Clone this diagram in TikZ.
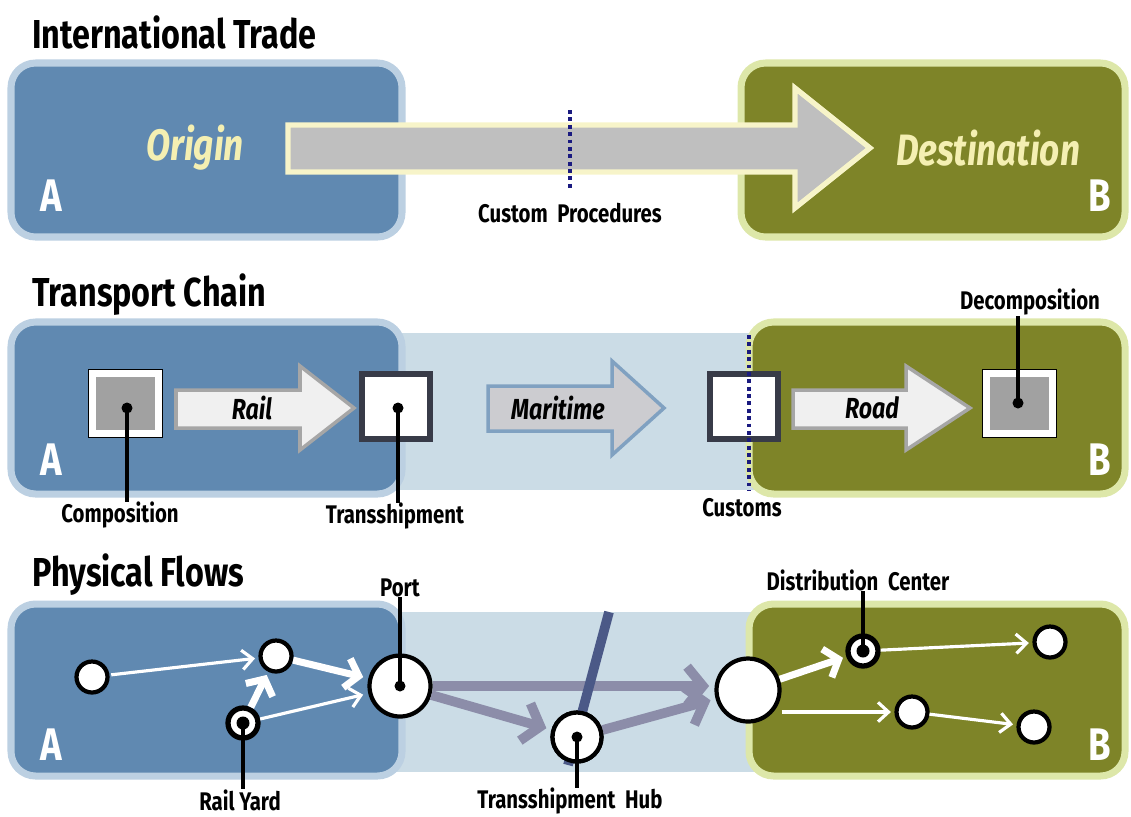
\documentclass[tikz,border=0pt]{standalone}
\usepackage{fontspec}
\newfontfamily\agency[FakeStretch=0.8]{Fira Sans}
\usetikzlibrary{arrows.meta,positioning,calc}

\definecolor{blueA}{HTML}{6089B1}
\definecolor{blueAedge}{HTML}{BCD0E2}
\definecolor{greenB}{HTML}{7E8428}
\definecolor{greenBedge}{HTML}{DDE7A9}
\definecolor{bandblue}{HTML}{CBDCE6}
\definecolor{paleyellow}{HTML}{F4EFB2}
\definecolor{flowgray}{HTML}{8C8DA9}
\definecolor{slate}{HTML}{4B5987}
\definecolor{customsnavy}{HTML}{1A1A80}
\definecolor{boxdark}{HTML}{383B48}

\begin{document}
\begin{tikzpicture}[x=0.02cm, y=-0.02cm,
    regionA/.style={fill=blueA, draw=blueAedge, line width=4pt, rounded corners=14pt},
    regionB/.style={fill=greenB, draw=greenBedge, line width=4pt, rounded corners=14pt},
    title/.style={font=\agency\bfseries\fontsize{23}{26}\selectfont, anchor=west, inner sep=0pt},
    lbl/.style={font=\agency\bfseries\fontsize{14.5}{16}\selectfont, inner sep=0pt},
    place/.style={font=\agency\bfseries\itshape\fontsize{25}{28}\selectfont, text=paleyellow, inner sep=0pt},
    mode/.style={font=\agency\bfseries\itshape\fontsize{16.5}{18}\selectfont, inner sep=0pt},
    letter/.style={font=\agency\bfseries\fontsize{26}{28}\selectfont, text=white, inner sep=0pt},
    border/.style={draw=customsnavy, line width=1.8pt, dash pattern=on 2.2pt off 2pt},
    pin/.style={draw=black, line width=1.8pt},
    dot/.style={circle, fill=black, inner sep=0pt, minimum size=0.22cm},
    stop/.style={circle, draw=black, fill=white, line width=2.4pt, inner sep=0pt, minimum size=0.62cm},
    grayflow/.style={draw=flowgray, line width=5.5pt, -{Straight Barb[length=9pt, width=22pt]}},
    bigflow/.style={draw=white, line width=4pt, -{Straight Barb[length=7pt, width=17pt]}},
    thinflow/.style={draw=white, line width=1.8pt, -{Straight Barb[length=6pt, width=11pt]}}
]
\useasboundingbox (0,0) rectangle (1131,816);

%%% International Trade
\node[title] (tTrade) at (32,32) {International Trade};
\draw[regionA] (11,63) rectangle (402,237);
\draw[regionB] (741,63) rectangle (1125,237);

% main trade arrow
\draw[fill=black!25, draw=paleyellow!70!white, line width=3pt]
    (288,125) -- (795,125) -- (795,88) -- (870,148) -- (795,208) -- (795,172) -- (288,172) -- cycle;
\draw[border] (570,110) -- (570,190);

\node[place] (origin) at (195,148) {Origin};
\node[place] (dest) at (988,148) {Destination};
\node[letter] (aTrade) at (51,196) {A};
\node[letter] (bTrade) at (1100,196) {B};
\node[lbl] (custproc) at (570,213) {Custom\ \ Procedures};

%%% Transport Chain
\node[title] (tChain) at (32,295) {Transport Chain};
\fill[bandblue] (200,333) rectangle (800,490);
\draw[regionA] (11,322) rectangle (402,494);
\draw[regionB] (749,322) rectangle (1125,494);

% composition / decomposition boxes
\draw[fill=white] (88,369) rectangle (162,437);
\fill[black!37] (96,377) rectangle (155,430);
\draw[fill=white] (982,369) rectangle (1056,437);
\fill[black!37] (990,377) rectangle (1049,430);

% transshipment and customs boxes
\draw[fill=white, draw=boxdark, line width=3pt] (362,374) rectangle (430,439);
\draw[fill=white, draw=boxdark, line width=3pt] (710,374) rectangle (778,439);
\draw[border] (749,335) -- (749,490);

% mode arrows
\draw[fill=black!6, draw=black!35, line width=2pt]
    (176,390) -- (300,390) -- (300,366) -- (354,408) -- (300,450) -- (300,428) -- (176,428) -- cycle;
\draw[fill=blue!8!black!20, draw=blueA!80, line width=2pt]
    (488,386) -- (612,386) -- (612,361) -- (664,408) -- (612,455) -- (612,431) -- (488,431) -- cycle;
\draw[fill=black!6, draw=black!35, line width=2pt]
    (793,390) -- (906,390) -- (906,366) -- (970,408) -- (906,450) -- (906,428) -- (793,428) -- cycle;
\node[mode] (rail) at (252,408) {Rail};
\node[mode] (maritime) at (558,408) {Maritime};
\node[mode] (road) at (872,408) {Road};

\node[dot] (dComp) at (127,408) {};
\node[dot] (dTrans) at (398,408) {};
\node[dot] (dDecomp) at (1018,403) {};
\node[lbl] (lComp) at (120,515) {Composition};
\node[lbl] (lTrans) at (395,516) {Transshipment};
\node[lbl] (lCustoms) at (742,508) {Customs};
\node[lbl] (lDecomp) at (1030,302) {Decomposition};
\draw[pin] (dComp.center) -- (dComp.center |- lComp.north);
\draw[pin] (dTrans.center) -- (dTrans.center |- lTrans.north);
\draw[pin] (dDecomp.center) -- (dDecomp.center |- lDecomp.south);

\node[letter] (aChain) at (51,460) {A};
\node[letter] (bChain) at (1100,460) {B};

%%% Physical Flows
\node[title] (tFlows) at (32,575) {Physical Flows};
\fill[bandblue] (200,612) rectangle (800,772);
\draw[regionA] (11,604) rectangle (402,776);
\draw[regionB] (749,604) rectangle (1125,776);

% places
\node[stop] (farm) at (92,677) {};
\node[stop] (yard2) at (276,656) {};
\node[stop, minimum size=0.6cm, line width=3pt, path picture={\fill[black] (path picture bounding box.center) circle (0.13cm);}] (railyard) at (243,723) {};
\node[stop, minimum size=1.22cm] (port) at (400,686) {};
\node[stop, minimum size=0.98cm] (hub) at (577,737) {};
\node[stop, minimum size=1.26cm] (gate) at (748,690) {};
\node[stop, minimum size=0.6cm, line width=3pt, path picture={\fill[black] (path picture bounding box.center) circle (0.13cm);}] (dc) at (863,651) {};
\node[stop] (shopA) at (1050,642) {};
\node[stop] (depot) at (912,712) {};
\node[stop] (shopB) at (1034,727) {};

% long distance flows
\draw[grayflow, shorten >=3pt] (port) -- (gate.west |- port.east);
\draw[grayflow, shorten >=3pt] (port) -- (hub);
\draw[grayflow, shorten >=3pt] (hub) -- (gate);
\draw[slate, line width=5.5pt] (609,612) -- (568,765);
\node[stop, minimum size=0.98cm] (hub) at (577,737) {};

% local flows
\draw[thinflow, shorten <=1pt, shorten >=2pt] (farm) -- (yard2);
\draw[bigflow, shorten >=2pt] (railyard) -- (yard2);
\draw[bigflow, shorten >=3pt] (yard2) -- (port);
\draw[thinflow, shorten >=3pt] (railyard) -- (port);
\draw[bigflow, shorten >=2pt] (gate) -- (dc);
\draw[thinflow, shorten >=2pt] (gate.east |- 0,712) -- (depot);
\draw[thinflow, shorten >=2pt] (dc) -- (shopA);
\draw[thinflow, shorten >=2pt] (depot) -- (shopB);

\node[dot] (dPort) at (400,686) {};
\node[dot] (dHub) at (577,737) {};
\node[lbl] (lPort) at (400,588) {Port};
\node[lbl] (lYard) at (240,800) {Rail\ Yard};
\node[lbl] (lHub) at (570,801) {Transshipment\ \ Hub};
\node[lbl] (lDC) at (858,580) {Distribution\ \ Center};
\draw[pin] (dPort.center) -- (dPort.center |- lPort.south);
\draw[pin] (railyard.center) -- (railyard.center |- lYard.north);
\draw[pin] (dHub.center) -- (dHub.center |- lHub.north);
\draw[pin] (dc.center) -- (dc.center |- lDC.south);

\node[letter] (aFlows) at (51,745) {A};
\node[letter] (bFlows) at (1100,745) {B};
\end{tikzpicture}
\end{document}
